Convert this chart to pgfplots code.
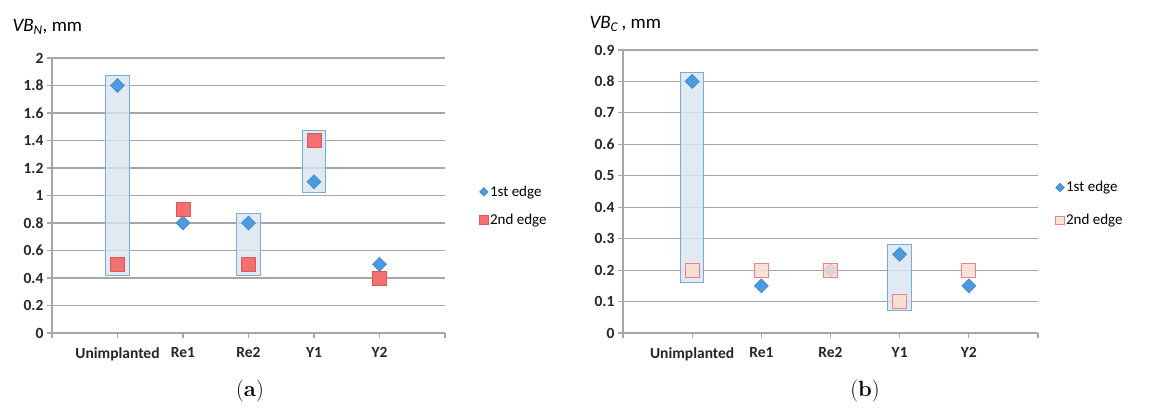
\documentclass[border=0pt]{standalone}
\usepackage{fontspec}
\usepackage{pgfplots}
\pgfplotsset{compat=1.18}
\setsansfont{Carlito}
\definecolor{dblue}{RGB}{74,155,224}
\definecolor{dbluedk}{RGB}{55,130,200}
\definecolor{sred}{RGB}{244,112,112}
\definecolor{sreddk}{RGB}{215,90,90}
\definecolor{pfill}{RGB}{248,222,210}
\definecolor{pdraw}{RGB}{236,130,130}
\definecolor{bfill}{RGB}{218,229,240}
\definecolor{bdraw}{RGB}{120,172,216}
\definecolor{gridc}{RGB}{166,166,166}
\pgfplotsset{
  myaxis/.style={
    scale only axis,
    xmin=0, xmax=6, ymin=0,
    axis x line*=bottom, axis y line*=left,
    axis line style={-, draw=gridc, line width=1.2pt},
    xtick={0,1,2,3,4,5,6},
    xticklabels={,Unimplanted,Re1,Re2,Y1,Y2,},
    tick align=outside,
    major tick length=5pt,
    tick style={draw=gridc, line width=1.2pt},
    ymajorgrids, grid style={draw=gridc, line width=1.2pt},
    ticklabel style={font=\sffamily\bfseries\fontsize{15.5}{17}\selectfont, text=black!85},
    /pgf/number format/assume math mode=true,
    xticklabel style={yshift=-6pt},
    legend style={draw=none, fill=none, font=\sffamily\fontsize{15}{17}\selectfont,
      row sep=12pt, anchor=north west, legend cell align=left},
    legend image code/.code={\draw[#1, scale=0.6] plot coordinates {(0.15cm,0cm)};},
  },
  diam/.style={only marks, mark=diamond*, mark size=7pt,
    mark options={xscale=1.33, fill=dblue, draw=dbluedk, line width=0.6pt}},
  boxst/.style={fill=bfill, fill opacity=0.8, draw=bdraw, line width=1pt, forget plot},
}
\begin{document}
\begin{tikzpicture}
\useasboundingbox (0pt,0pt) rectangle (1151pt,408pt);
% ---------- (a) ----------
\begin{axis}[myaxis, at={(52pt,75pt)}, anchor=south west,
  width=393pt, height=275pt, ymax=2,
  ytick={0,0.2,0.4,0.6,0.8,1,1.2,1.4,1.6,1.8,2},
  legend style={at={(rel axis cs:1.08,0.55)}}]
\addplot[boxst] coordinates {(0.82,0.42) (1.18,0.42) (1.18,1.87) (0.82,1.87)} -- cycle;
\addplot[boxst] coordinates {(2.82,0.42) (3.18,0.42) (3.18,0.87) (2.82,0.87)} -- cycle;
\addplot[boxst] coordinates {(3.82,1.02) (4.18,1.02) (4.18,1.47) (3.82,1.47)} -- cycle;
\addplot[diam] coordinates {(1,1.8) (2,0.8) (3,0.8) (4,1.1) (5,0.5)};
\addlegendentry{1st edge}
\addplot[only marks, mark=square*, mark size=7pt,
  mark options={fill=sred, draw=sreddk, line width=0.6pt}]
  coordinates {(1,0.5) (2,0.9) (3,0.5) (4,1.4) (5,0.4)};
\addlegendentry{2nd edge}
\end{axis}
\node[anchor=base west, font=\sffamily\fontsize{19}{21}\selectfont] at (9pt,376pt)
  {\textit{VB}\textsubscript{\textit{N}}, mm};
\node[font=\fontsize{22}{24}\selectfont] at (250pt,17pt) {(\textbf{a})};
% ---------- (b) ----------
\begin{axis}[myaxis, at={(623pt,75pt)}, anchor=south west,
  width=415pt, height=283pt, ymax=0.9,
  ytick={0,0.1,0.2,0.3,0.4,0.5,0.6,0.7,0.8,0.9},
  yticklabel style={/pgf/number format/fixed, /pgf/number format/precision=1},
  legend style={at={(rel axis cs:1.035,0.55)}, row sep=17pt}]
\addplot[boxst] coordinates {(0.83,0.16) (1.17,0.16) (1.17,0.83) (0.83,0.83)} -- cycle;
\addplot[boxst] coordinates {(3.83,0.07) (4.17,0.07) (4.17,0.28) (3.83,0.28)} -- cycle;
\addplot[diam] coordinates {(1,0.8) (2,0.15) (3,0.2) (4,0.25) (5,0.15)};
\addlegendentry{1st edge}
\addplot[only marks, mark=square*, mark size=7pt,
  mark options={fill=pfill, fill opacity=0.85, draw=pdraw, line width=1pt}]
  coordinates {(1,0.2) (2,0.2) (3,0.2) (4,0.1) (5,0.2)};
\addlegendentry{2nd edge}
\end{axis}
\node[anchor=base west, font=\sffamily\fontsize{19}{21}\selectfont] at (586pt,379pt)
  {\textit{VB}\textsubscript{\textit{C}}\,, mm};
\node[font=\fontsize{22}{24}\selectfont] at (865pt,17pt) {(\textbf{b})};
\end{tikzpicture}
\end{document}
